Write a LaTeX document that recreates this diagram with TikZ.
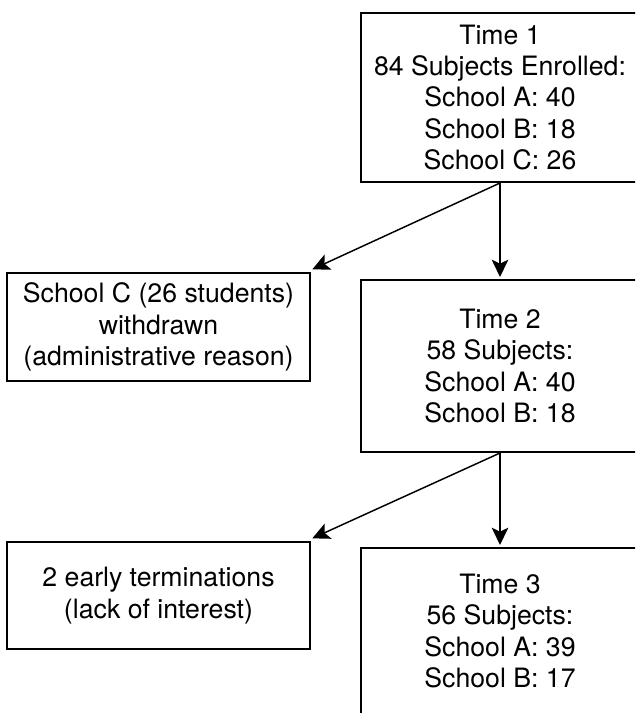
\documentclass[tikz,border=0pt]{standalone}
\usepackage{fontspec}
\setmainfont{TeX Gyre Heros}
\usetikzlibrary{arrows,arrows.meta,positioning}
\tikzset{>={Stealth[length=13pt,width=12.5pt,inset=3pt]}}
\tikzset{box/.style={draw,line width=1.5pt,inner sep=0pt,align=center,
    font=\fontsize{20pt}{23.6pt}\selectfont},
  wide/.style={box,minimum width=208.5pt},
  side/.style={box,minimum width=227.25pt},
  link/.style={->,line width=1.1pt}}

\begin{document}
\begin{tikzpicture}[x=0.75pt,y=-0.75pt]
\useasboundingbox (0,0) rectangle (635,713);
\clip (0,0) rectangle (635,713);
\node[wide,minimum height=126.75pt] (t1) at (500,97.5)
  {Time 1\\84 Subjects Enrolled:\\School A: 40\\School B: 18\\School C: 26};
\node[side,minimum height=81pt] (l1) at (158.5,327)
  {School C (26 students)\\withdrawn\\(administrative reason)};
\node[wide,minimum height=129pt] (t2) at (500,366)
  {Time 2\\58 Subjects:\\School A: 40\\School B: 18};
\node[side,minimum height=80.25pt] (l2) at (158.5,595.5)
  {2 early terminations\\(lack of interest)};
\node[wide,minimum height=124.5pt] (t3) at (500,631)
  {Time 3\\56 Subjects:\\School A: 39\\School B: 17};
\draw[link,shorten >=1.5pt] (t1.south) -- (t2.north);
\draw[link] (t1.south) -- ([xshift=1pt,yshift=2pt]l1.north east);
\draw[link,shorten >=1.5pt] (t2.south) -- (t3.north);
\draw[link] (t2.south) -- ([xshift=1pt,yshift=2pt]l2.north east);
\end{tikzpicture}
\end{document}
